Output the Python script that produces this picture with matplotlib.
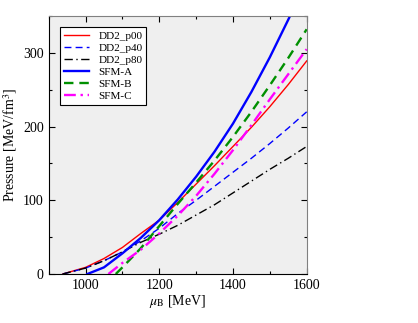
import matplotlib
matplotlib.use("Agg")
import matplotlib.pyplot as plt
from matplotlib.ticker import MultipleLocator

plt.rcParams['font.family'] = ['Liberation Serif', 'DejaVu Serif']
plt.rcParams['mathtext.fontset'] = 'stix'

# mu_B [MeV] and pressure [MeV/fm^3]
mu_dd2 = [938, 1000, 1050, 1100, 1150, 1200, 1250, 1300, 1350, 1400, 1450, 1500, 1550, 1600]
p_dd2_p00 = [0, 9, 21, 36, 55, 73, 97, 122, 147, 173, 199, 227, 257, 289]
p_dd2_p40 = [0, 8, 18, 30, 45, 62, 82, 100, 119, 138, 157, 177, 198, 220]
p_dd2_p80 = [0, 8, 18, 30, 43, 54, 66, 80, 94, 110, 126, 142, 157, 173]

mu_sfm_a = [1005, 1050, 1100, 1150, 1200, 1250, 1300, 1350, 1400, 1450, 1500, 1550, 1600]
p_sfm_a = [0, 9, 28, 49, 73, 101, 132, 166, 204, 247, 294, 345, 398]

mu_sfm_b = [1082, 1100, 1150, 1200, 1250, 1300, 1350, 1400, 1450, 1500, 1550, 1600]
p_sfm_b = [0, 9, 35, 65, 95, 124, 154, 186, 220, 256, 293, 332]

mu_sfm_c = [1062, 1100, 1150, 1200, 1250, 1300, 1350, 1400, 1450, 1500, 1550, 1600]
p_sfm_c = [0, 15, 33, 55, 79, 106, 136, 168, 202, 237, 271, 305]

fig = plt.figure(figsize=(4.18, 3.23), dpi=100)
ax = fig.add_axes([0.1165, 0.1517, 0.6172, 0.7988])
ax.set_facecolor('#efefef')

ax.plot(mu_dd2, p_dd2_p00, color='#ff0000', lw=1.0, ls='-', label='DD2_p00')
ax.plot(mu_dd2, p_dd2_p40, color='#0000ff', lw=1.0, ls=(0, (5, 3)), label='DD2_p40')
ax.plot(mu_dd2, p_dd2_p80, color='black', lw=1.0, ls=(0, (6, 2.5, 1, 2.5)), label='DD2_p80')
ax.plot(mu_sfm_a, p_sfm_a, color='#0000ff', lw=1.7, ls='-', label='SFM-A')
ax.plot(mu_sfm_b, p_sfm_b, color='#009000', lw=1.7, ls=(0, (4, 2.5)), label='SFM-B')
ax.plot(mu_sfm_c, p_sfm_c, color='#ff00ff', lw=1.7, ls=(0, (5, 2, 1, 2)), label='SFM-C')

ax.set_xlim(900, 1600)
ax.set_ylim(0, 350)
ax.xaxis.set_major_locator(MultipleLocator(200))
ax.xaxis.set_minor_locator(MultipleLocator(100))
ax.yaxis.set_major_locator(MultipleLocator(100))
ax.yaxis.set_minor_locator(MultipleLocator(50))
ax.tick_params(which='both', direction='in', top=True, right=True, labelsize=10)
ax.tick_params(which='major', length=4, width=0.8)
ax.tick_params(which='minor', length=2, width=0.8)
for s in ['top', 'right']:
    ax.spines[s].set_color('#808080')
for s in ['left', 'bottom']:
    ax.spines[s].set_color('black')

ax.set_xlabel(r'$\mu_\mathrm{B}$ [MeV]', fontsize=10, labelpad=1)
ax.set_ylabel(r'Pressure [MeV/fm$^3$]', fontsize=10, labelpad=3)

leg = ax.legend(loc='upper left', bbox_to_anchor=(0.044, 0.957), borderaxespad=0,
                fontsize=8, frameon=True, fancybox=False, edgecolor='black',
                framealpha=1, handlelength=2.3, labelspacing=0.2, borderpad=0.35,
                handletextpad=0.8)
leg.get_frame().set_linewidth(0.8)

fig.savefig('out.png', dpi=100)
